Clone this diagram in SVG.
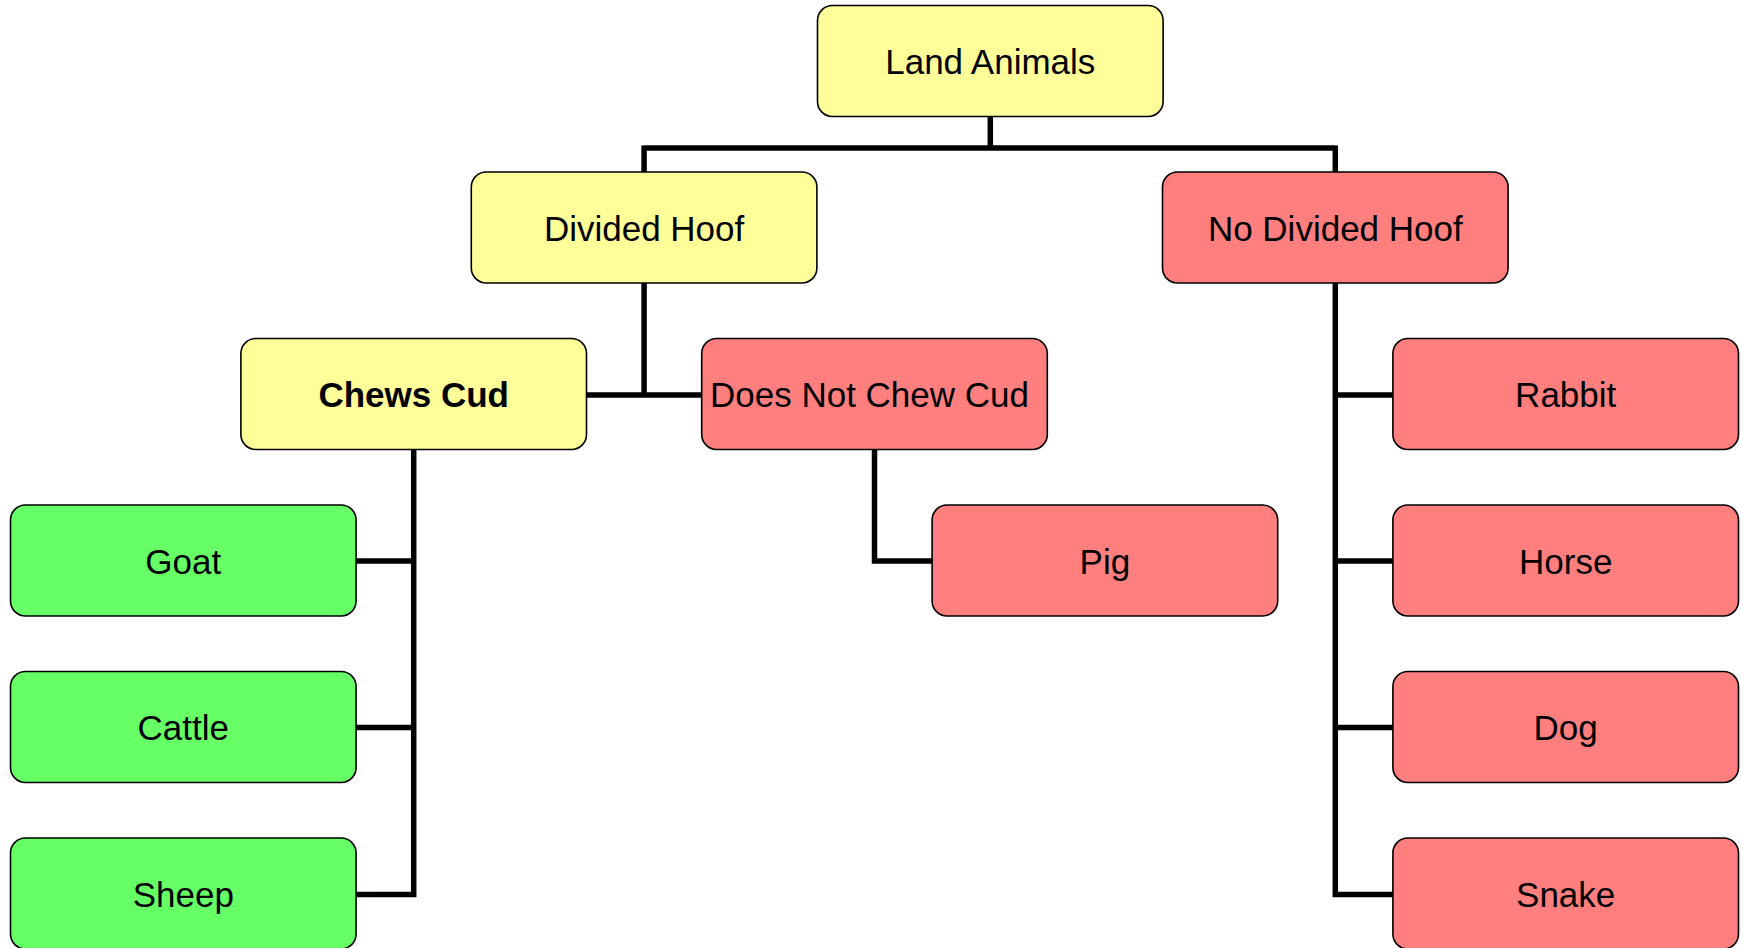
<svg xmlns="http://www.w3.org/2000/svg" width="1741" height="948" viewBox="0 0 1741 948">
<style>
.box{stroke:#000;stroke-width:1.6}
.y{fill:#FFFF99}
.r{fill:#FF7F7F}
.g{fill:#66FF66}
text{font-family:"Liberation Sans",Arial,sans-serif;font-size:35px;fill:#000;text-anchor:middle}
.b{font-weight:bold}
.conn{fill:none;stroke:#000;stroke-width:5.5}
</style>
<rect width="1741" height="948" fill="#fff"/>
<g id="connectors" class="conn">
<path d="M990.3 116.6V148M644.1 148H1335.3M644.1 145.5V172M1335.3 145.5V172"/>
<path d="M644.1 283V397.5M586.5 395H701.7"/>
<path d="M413.7 450V894.5H356M356 561H413.7M356 727.5H413.7"/>
<path d="M874.5 450V561H932.1"/>
<path d="M1335.3 283V894.5H1392.9M1335.3 395H1392.9M1335.3 561H1392.9M1335.3 727.5H1392.9"/>
</g>
<g id="land-animals"><rect class="box y" x="817.5" y="5.5" width="345.6" height="111" rx="15"/><text x="990.3" y="74">Land Animals</text></g>
<g id="divided-hoof"><rect class="box y" x="471.3" y="172" width="345.6" height="111" rx="15"/><text x="644.1" y="240.5">Divided Hoof</text></g>
<g id="no-divided-hoof"><rect class="box r" x="1162.5" y="172" width="345.6" height="111" rx="15"/><text x="1335.3" y="240.5">No Divided Hoof</text></g>
<g id="chews-cud"><rect class="box y" x="240.9" y="338.5" width="345.6" height="111" rx="15"/><text class="b" x="413.7" y="407">Chews Cud</text></g>
<g id="does-not-chew-cud"><rect class="box r" x="701.7" y="338.5" width="345.6" height="111" rx="15"/><text x="869.5" y="407">Does Not Chew Cud</text></g>
<g id="goat"><rect class="box g" x="10.5" y="505" width="345.6" height="111" rx="15"/><text x="183.3" y="573.5">Goat</text></g>
<g id="cattle"><rect class="box g" x="10.5" y="671.5" width="345.6" height="111" rx="15"/><text x="183.3" y="740">Cattle</text></g>
<g id="sheep"><rect class="box g" x="10.5" y="838" width="345.6" height="111" rx="15"/><text x="183.3" y="906.5">Sheep</text></g>
<g id="pig"><rect class="box r" x="932.1" y="505" width="345.6" height="111" rx="15"/><text x="1104.9" y="573.5">Pig</text></g>
<g id="rabbit"><rect class="box r" x="1392.9" y="338.5" width="345.6" height="111" rx="15"/><text x="1565.7" y="407">Rabbit</text></g>
<g id="horse"><rect class="box r" x="1392.9" y="505" width="345.6" height="111" rx="15"/><text x="1565.7" y="573.5">Horse</text></g>
<g id="dog"><rect class="box r" x="1392.9" y="671.5" width="345.6" height="111" rx="15"/><text x="1565.7" y="740">Dog</text></g>
<g id="snake"><rect class="box r" x="1392.9" y="838" width="345.6" height="111" rx="15"/><text x="1565.7" y="906.5">Snake</text></g>
</svg>
